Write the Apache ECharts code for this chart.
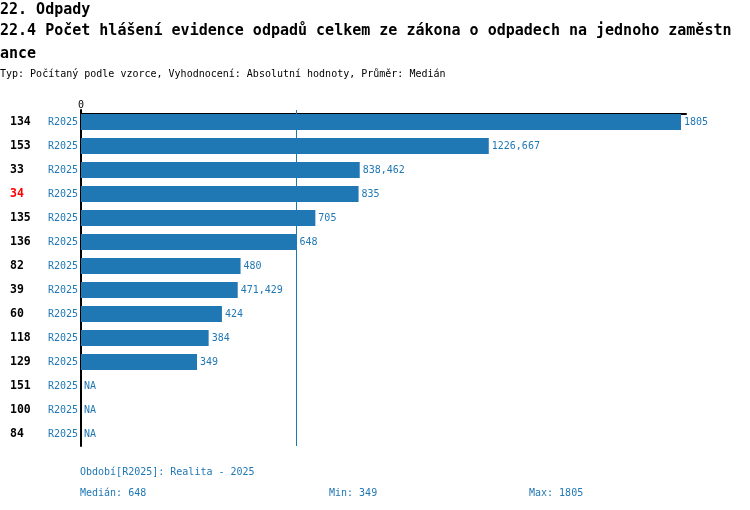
<!DOCTYPE html>
<html lang="cs" style="height: 100%">

<head>
  <meta charset="utf-8">
</head>

<body style="height: 100%; margin: 0; background: #fff">
  <div id="container" style="width: 750px; height: 510px"></div>

  <script type="text/javascript" src="https://cdn.jsdelivr.net/npm/echarts@6/dist/echarts.min.js"></script>

  <script type="text/javascript">
    // data
    var units = ['134', '153', '33', '34', '135', '136', '82', '39', '60', '118', '129', '151', '100', '84'];
    var period = 'R2025';
    var values = [1805, 1226.667, 838.462, 835, 705, 648, 480, 471.429, 424, 384, 349, null, null, null];
    var highlighted = '34';
    var median = 648, minVal = 349, maxVal = 1805;

    var FONT = '"DejaVu Sans Mono", "Liberation Mono", monospace';
    var BLUE = '#1f77b4';

    var dom = document.getElementById('container');
    var myChart = echarts.init(dom, null, { renderer: 'canvas' });

    function fmt(v) {
      return String(v).replace('.', ',');
    }

    var option = {
      animation: false,
      textStyle: { fontFamily: FONT },
      title: [
        {
          text: '22. Odpady', left: 0, top: 3, padding: 0,
          textStyle: { fontFamily: FONT, fontSize: 15, fontWeight: 'bold', color: '#000' }
        },
        {
          text: '22.4 Počet hlášení evidence odpadů celkem ze zákona o odpadech na jednoho zaměstn',
          left: 0, top: 24, padding: 0,
          textStyle: { fontFamily: FONT, fontSize: 15, fontWeight: 'bold', color: '#000' }
        },
        {
          text: 'ance', left: 0, top: 47, padding: 0,
          textStyle: { fontFamily: FONT, fontSize: 15, fontWeight: 'bold', color: '#000' }
        },
        {
          text: 'Typ: Počítaný podle vzorce, Vyhodnocení: Absolutní hodnoty, Průměr: Medián',
          left: 0, top: 69, padding: 0,
          textStyle: { fontFamily: FONT, fontSize: 10, fontWeight: 'normal', color: '#000' }
        },
        {
          text: 'Období[' + period + ']: Realita - 2025', left: 80, top: 467, padding: 0,
          textStyle: { fontFamily: FONT, fontSize: 10, fontWeight: 'normal', color: BLUE }
        },
        {
          text: 'Medián: ' + median, left: 80, top: 488, padding: 0,
          textStyle: { fontFamily: FONT, fontSize: 10, fontWeight: 'normal', color: BLUE }
        },
        {
          text: 'Min: ' + minVal, left: 329, top: 488, padding: 0,
          textStyle: { fontFamily: FONT, fontSize: 10, fontWeight: 'normal', color: BLUE }
        },
        {
          text: 'Max: ' + maxVal, left: 529, top: 488, padding: 0,
          textStyle: { fontFamily: FONT, fontSize: 10, fontWeight: 'normal', color: BLUE }
        }
      ],
      grid: { left: 81, right: 64, top: 110, bottom: 64, containLabel: false },
      xAxis: {
        type: 'value',
        position: 'top',
        offset: -4,
        min: 0,
        max: 1820,
        interval: 1820,
        axisLine: { show: true, lineStyle: { color: '#000', width: 2 } },
        axisTick: { show: false },
        splitLine: { show: false },
        axisLabel: {
          margin: 4,
          fontFamily: FONT, fontSize: 10, color: '#000',
          formatter: function (v) { return v === 0 ? '0' : ''; }
        }
      },
      yAxis: {
        type: 'category',
        inverse: true,
        data: units,
        axisLine: { show: true, lineStyle: { color: '#000', width: 2 } },
        axisTick: { show: false },
        axisLabel: {
          margin: 3,
          formatter: function (v) {
            return (v === highlighted ? '{r|' + v + '}' : '{n|' + v + '}') + '{p|' + period + '}';
          },
          rich: {
            n: { width: 37, align: 'left', fontFamily: FONT, fontSize: 11.5, fontWeight: 'bold', color: '#000' },
            r: { width: 37, align: 'left', fontFamily: FONT, fontSize: 11.5, fontWeight: 'bold', color: '#ff0000' },
            p: { width: 31, align: 'right', fontFamily: FONT, fontSize: 10, color: BLUE }
          }
        }
      },
      series: [
        {
          type: 'bar',
          barWidth: 16,
          data: values.map(function (v) { return v === null ? 0 : v; }),
          itemStyle: { color: BLUE },
          label: {
            show: true,
            position: 'right',
            distance: 3,
            fontFamily: FONT, fontSize: 10, color: BLUE,
            formatter: function (p) {
              var raw = values[p.dataIndex];
              return raw === null ? 'NA' : fmt(raw);
            }
          },
          markLine: {
            silent: true,
            symbol: 'none',
            label: { show: false },
            lineStyle: { color: BLUE, width: 1, type: 'solid' },
            data: [{ xAxis: median }]
          }
        }
      ]
    };

    myChart.setOption(option);
    window.addEventListener('resize', myChart.resize);
  </script>
</body>

</html>
